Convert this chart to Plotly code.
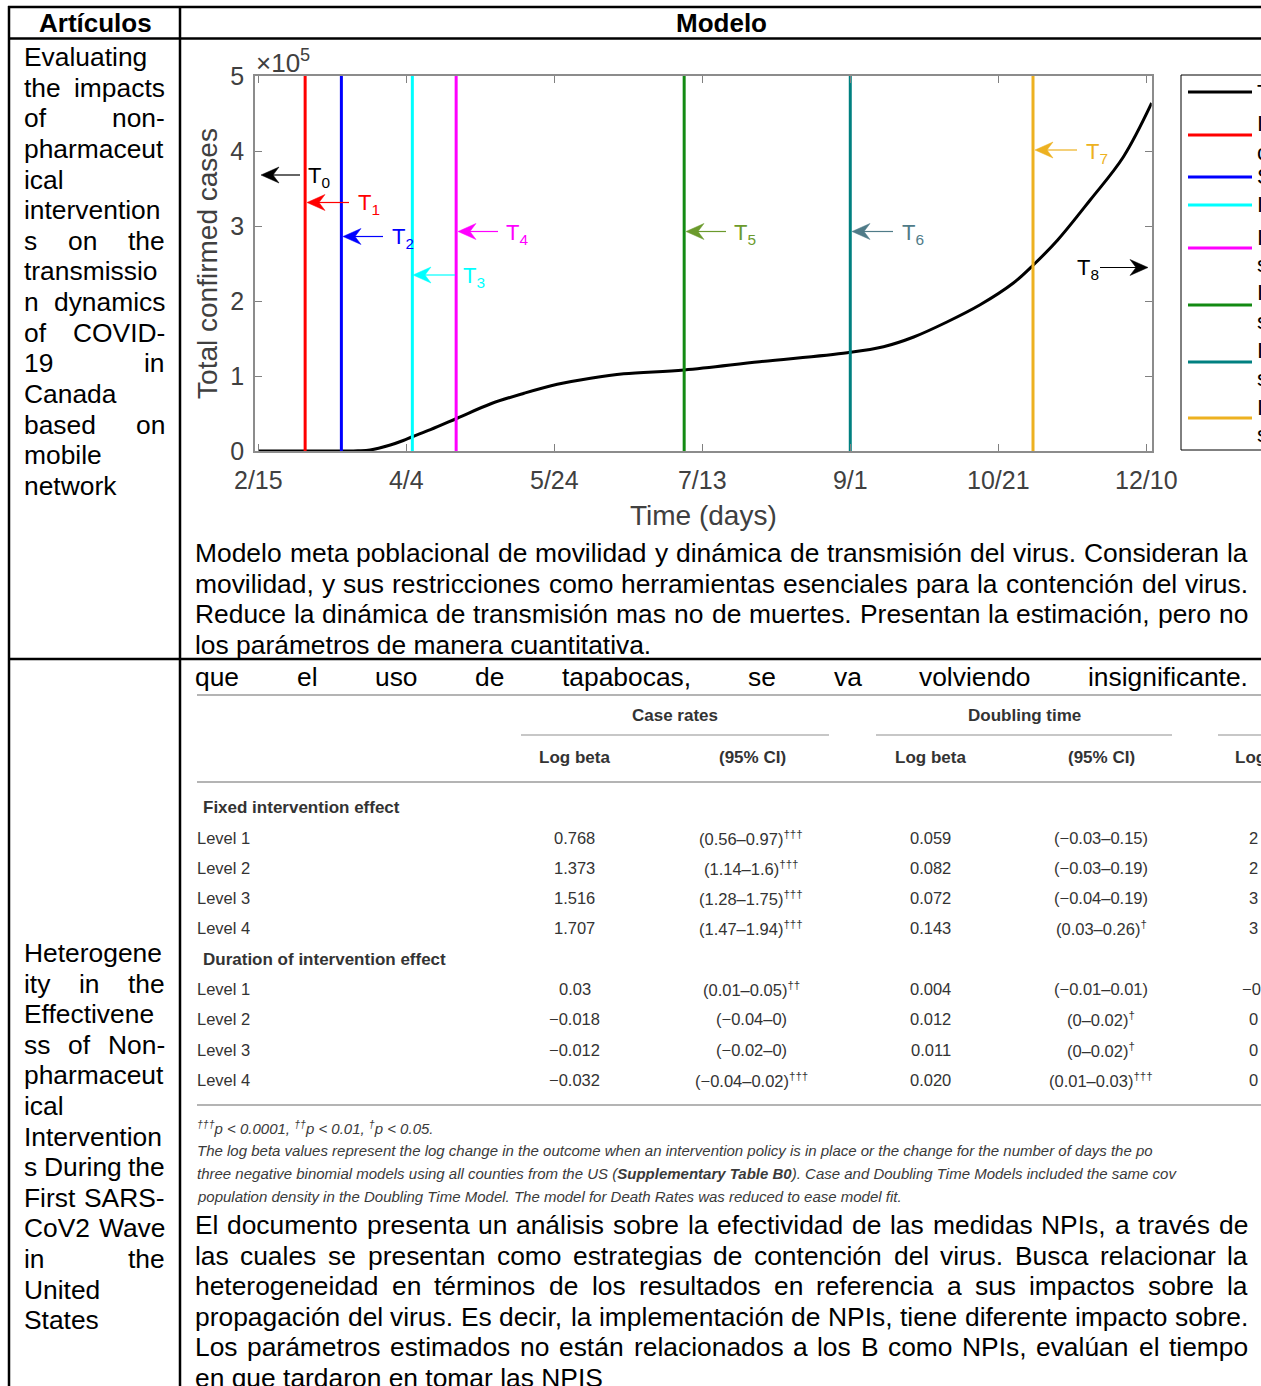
import plotly.graph_objects as go

W, H = 1261, 1386
FONT = "Liberation Sans, Arial, Helvetica, sans-serif"

# ---------------- chart data ----------------
days = [0, 29, 33, 37, 43.7, 48, 51, 57, 66, 77, 88, 99, 110, 121, 141, 166, 195, 207,
        217, 228, 239, 250, 256.6, 264.6, 275.5, 286.4, 295.8]
cases = [0, 0, 300, 1300, 8000, 14000, 19000, 28500, 44000, 63000, 77000, 89000, 97000,
         103000, 108000, 119000, 131000, 139000, 152000, 172000, 195000, 224000, 248000,
         281000, 335000, 392000, 464000]
tick_days = [0, 49, 98, 147, 196, 245, 294]
tick_labels = ["2/15", "4/4", "5/24", "7/13", "9/1", "10/21", "12/10"]
y_ticks = [0, 100000, 200000, 300000, 400000, 500000]
y_tick_labels = ["0", "1", "2", "3", "4", "5"]
event_days = [15.5, 27.5, 51, 65.5, 141, 196, 256.5]
event_colors = ["#ff0000", "#0000ff", "#00ffff", "#ff00ff", "#138a13", "#008080", "#edb120"]
event_labels = ["T<sub>0</sub>", "T<sub>1</sub>", "T<sub>2</sub>", "T<sub>3</sub>", "T<sub>4</sub>",
                "T<sub>5</sub>", "T<sub>6</sub>", "T<sub>7</sub>", "T<sub>8</sub>"]
label_colors = ["#000000", "#ff0000", "#0000ff", "#00ffff", "#ff00ff", "#6b9a2c", "#4f7b88",
                "#edb120", "#000000"]
legend_names = [["Total"], ["Int", "clo"], ["Sch"], ["Iso"], ["Ini", "sta"], ["Ini", "sta"],
                ["Ini", "sta"], ["Ini", "sta"]]

# ---------------- table data ----------------
levels = ["Level 1", "Level 2", "Level 3", "Level 4"]
fixed_case_beta = ["0.768", "1.373", "1.516", "1.707"]
fixed_case_ci = ["(0.56–0.97)<sup>†††</sup>", "(1.14–1.6)<sup>†††</sup>",
                 "(1.28–1.75)<sup>†††</sup>", "(1.47–1.94)<sup>†††</sup>"]
fixed_dt_beta = ["0.059", "0.082", "0.072", "0.143"]
fixed_dt_ci = ["(−0.03–0.15)", "(−0.03–0.19)", "(−0.04–0.19)", "(0.03–0.26)<sup>†</sup>"]
fixed_death_beta = ["2", "2", "3", "3"]
dur_case_beta = ["0.03", "−0.018", "−0.012", "−0.032"]
dur_case_ci = ["(0.01–0.05)<sup>††</sup>", "(−0.04–0)", "(−0.02–0)", "(−0.04–0.02)<sup>†††</sup>"]
dur_dt_beta = ["0.004", "0.012", "0.011", "0.020"]
dur_dt_ci = ["(−0.01–0.01)", "(0–0.02)<sup>†</sup>", "(0–0.02)<sup>†</sup>", "(0.01–0.03)<sup>†††</sup>"]
dur_death_beta = ["−0", "0", "0", "0"]
footnotes = [
    "<i><sup>†††</sup>p &lt; 0.0001, <sup>††</sup>p &lt; 0.01, <sup>†</sup>p &lt; 0.05.</i>",
    "<i>The log beta values represent the log change in the outcome when an intervention policy is in place or the change for the number of days the po</i>",
    "<i>three negative binomial models using all counties from the US (<b>Supplementary Table B0</b>). Case and Doubling Time Models included the same cov</i>",
    "<i>population density in the Doubling Time Model. The model for Death Rates was reduced to ease model fit.</i>",
]

# ---------------- document text ----------------
article1 = ["Evaluating", "the impacts", "of non-", "pharmaceut", "ical", "intervention",
            "s on the", "transmissio", "n dynamics", "of COVID-", "19 in", "Canada",
            "based on", "mobile", "network"]
model1 = ["Modelo meta poblacional de movilidad y dinámica de transmisión del virus. Consideran la",
          "movilidad, y sus restricciones como herramientas esenciales para la contención del virus.",
          "Reduce la dinámica de transmisión mas no de muertes. Presentan la estimación, pero no",
          "los parámetros de manera cuantitativa."]
article2 = ["Heterogene", "ity in the", "Effectivene", "ss of Non-", "pharmaceut", "ical",
            "Intervention", "s During the", "First SARS-", "CoV2 Wave", "in the", "United", "States"]
model2_top = "que el uso de tapabocas, se va volviendo insignificante."
model2 = ["El documento presenta un análisis sobre la efectividad de las medidas NPIs, a través de",
          "las cuales se presentan como estrategias de contención del virus. Busca relacionar la",
          "heterogeneidad en términos de los resultados en referencia a sus impactos sobre la",
          "propagación del virus. Es decir, la implementación de NPIs, tiene diferente impacto sobre.",
          "Los parámetros estimados no están relacionados a los B como NPIs, evalúan el tiempo",
          "en que tardaron en tomar las NPIS"]

# ---------------- helpers ----------------
AW = {' ': 278, ',': 278, '-': 333, '.': 278, '(': 333, ')': 333, '/': 278,
      'A': 667, 'B': 667, 'C': 722, 'D': 722, 'E': 667, 'F': 611, 'G': 778, 'H': 722, 'I': 278,
      'J': 500, 'K': 667, 'L': 556, 'M': 833, 'N': 722, 'O': 778, 'P': 667, 'Q': 778, 'R': 722,
      'S': 667, 'T': 611, 'U': 722, 'V': 667, 'W': 944, 'X': 667, 'Y': 667, 'Z': 611,
      'a': 556, 'b': 556, 'c': 500, 'd': 556, 'e': 556, 'f': 278, 'g': 556, 'h': 556, 'i': 222,
      'j': 222, 'k': 500, 'l': 222, 'm': 833, 'n': 556, 'o': 556, 'p': 556, 'q': 556, 'r': 333,
      's': 500, 't': 278, 'u': 556, 'v': 500, 'w': 722, 'x': 500, 'y': 500, 'z': 500,
      'á': 556, 'é': 556, 'í': 278, 'ó': 556, 'ú': 556, 'ñ': 556}


def tw(s, size):
    return sum(AW.get(c, 556) for c in s) * size / 1000.0


def px(x):
    return x / W


def py(y):
    return 1 - y / H


anns = []
shapes = []


def text(x, y, s, size, color="#000000", anchor="left", family=FONT):
    anns.append(dict(xref="paper", yref="paper", x=px(x), y=py(y), text=s, showarrow=False,
                     xanchor=anchor, yanchor="middle", borderpad=0, borderwidth=0,
                     font=dict(size=size, color=color, family=family)))


def line_words(line, x0, x1, y, size, justify=True):
    words = line.split()
    if len(words) == 1 or not justify:
        text(x0, y, line, size)
        return
    ws = [tw(w, size) for w in words]
    gap = (x1 - x0 - sum(ws)) / (len(words) - 1)
    x = x0
    for i, (w, wd) in enumerate(zip(words, ws)):
        if i == len(words) - 1:
            text(x1, y, w, size, anchor="right")
        else:
            text(x, y, w, size)
        x += wd + gap


def seg(x0, y0, x1, y1, color, width):
    shapes.append(dict(type="line", xref="paper", yref="paper", x0=px(x0), y0=py(y0),
                       x1=px(x1), y1=py(y1), line=dict(color=color, width=width)))


def arrow(hx, hy, tx, color):
    d = 1 if tx > hx else -1
    L, Wd, N = 18, 8, 12
    seg(hx + d * N, hy, tx, hy, color, 1.2)
    p = "M {:.6f},{:.6f} L {:.6f},{:.6f} L {:.6f},{:.6f} L {:.6f},{:.6f} Z".format(
        px(hx), py(hy), px(hx + d * L), py(hy - Wd), px(hx + d * N), py(hy),
        px(hx + d * L), py(hy + Wd))
    shapes.append(dict(type="path", xref="paper", yref="paper", path=p,
                       fillcolor=color, line=dict(color=color, width=0.5)))


# ---------------- figure ----------------
fig = go.Figure()
fig.add_trace(go.Scatter(x=days, y=cases, mode="lines", line=dict(color="black", width=3),
                         line_shape="spline", showlegend=False, hoverinfo="skip"))
for d, c in zip(event_days, event_colors):
    fig.add_trace(go.Scatter(x=[d, d], y=[y_ticks[0], y_ticks[-1]], mode="lines",
                             line=dict(color=c, width=3), showlegend=False, hoverinfo="skip"))

# chart arrows (head px, tail px)
arrows = [(261, 175, 300), (307, 202.5, 349), (343, 236.5, 383), (413, 275, 455),
          (458, 231.5, 498), (686, 231.5, 726), (852, 231.5, 893), (1035, 150, 1077),
          (1148, 267.5, 1100)]
label_pos = [(308, 177), (358, 204), (392, 238), (463, 277), (506, 234), (734, 234),
             (902, 234), (1086, 153), (1077, 269)]
for (hx, hy, tx), c in zip(arrows, label_colors):
    arrow(hx, hy, tx, c)
for (lx, ly), lab, c in zip(label_pos, event_labels, label_colors):
    text(lx, ly, lab, 22, color=c)

text(256, 61, "×10<sup>5</sup>", 26, color="#404040")

# legend box (manual)
legend_colors = ["#000000"] + event_colors
legend_line_y = [92, 135, 177, 205, 248, 305, 362, 418]
legend_text_y = [[92], [123, 152], [177], [205], [237, 265], [293, 322], [350, 378], [407, 435]]
shapes.append(dict(type="rect", xref="paper", yref="paper", x0=px(1181), x1=px(1275),
                   y0=py(450), y1=py(75), line=dict(color="#000000", width=1)))
for c, ly, tys, names in zip(legend_colors, legend_line_y, legend_text_y, legend_names):
    seg(1188, ly, 1252, ly, c, 3)
    for ty, nm in zip(tys, names):
        text(1257, ty, nm, 22)

# ---------------- document table ----------------
BL = "#000000"
seg(8, 7, 1261, 7, BL, 2.5)
seg(9, 6, 9, 1386, BL, 2.5)
seg(180, 6, 180, 1386, BL, 2.5)
seg(8, 38.5, 1261, 38.5, BL, 2.5)
seg(8, 659, 1261, 659, BL, 2.5)

text(95, 23, "<b>Artículos</b>", 26, anchor="center")
text(721, 23, "<b>Modelo</b>", 26, anchor="center")

TS = 26.4
for i, ln in enumerate(article1):
    line_words(ln, 24, 165, 57 + 30.64 * i, TS)
for i, ln in enumerate(model1):
    line_words(ln, 195, 1248, 553 + 30.5 * i, TS, justify=(i < len(model1) - 1))
line_words(model2_top, 195, 1248, 677, TS)
for i, ln in enumerate(article2):
    line_words(ln, 24, 165, 953 + 30.6 * i, TS, justify=(i < len(article2) - 1))
for i, ln in enumerate(model2):
    line_words(ln, 195, 1248, 1225 + 30.5 * i, TS, justify=(i < len(model2) - 1))

# ---------------- embedded statistics table ----------------
TC = "#333333"
RC = "#b4b4b4"
seg(197, 695, 1261, 695, RC, 2)
seg(521, 735, 829, 735, RC, 1.5)
seg(876, 735, 1172, 735, RC, 1.5)
seg(1218, 735, 1261, 735, RC, 1.5)
seg(197, 782, 1261, 782, RC, 2)
seg(197, 1105, 1261, 1105, RC, 2)

text(675, 715, "<b>Case rates</b>", 17, TC, "center")
text(1024, 715, "<b>Doubling time</b>", 17, TC, "center")
for xc, s in zip([574, 752, 930, 1101], ["Log beta", "(95% CI)", "Log beta", "(95% CI)"]):
    text(xc, 757, "<b>" + s + "</b>", 17, TC, "center")
text(1235, 757, "<b>Log</b>", 17, TC)
text(203, 808, "<b>Fixed intervention effect</b>", 17, TC)
text(203, 959, "<b>Duration of intervention effect</b>", 17, TC)

fixed_y = [838, 868, 898, 928]
dur_y = [989, 1019, 1050, 1080]
for ys, b1, c1, b2, c2, b3 in [(fixed_y, fixed_case_beta, fixed_case_ci, fixed_dt_beta, fixed_dt_ci, fixed_death_beta),
                               (dur_y, dur_case_beta, dur_case_ci, dur_dt_beta, dur_dt_ci, dur_death_beta)]:
    for i, y in enumerate(ys):
        text(197, y, levels[i], 16.5, TC)
        text(574.5, y, b1[i], 16.5, TC, "center")
        text(751, y, c1[i], 16.5, TC, "center")
        text(930.5, y, b2[i], 16.5, TC, "center")
        text(1101, y, c2[i], 16.5, TC, "center")
        text(1249 if not b3[i].startswith("−") else 1242, y, b3[i], 16.5, TC)

for i, fn in enumerate(footnotes):
    text(197, 1127 + 23 * i, fn, 15, "#3a3a3a")

fig.update_layout(
    template="none",
    width=W, height=H, autosize=False,
    margin=dict(l=0, r=0, t=0, b=0, pad=0),
    paper_bgcolor="white", plot_bgcolor="white",
    font=dict(family=FONT),
    showlegend=False,
    xaxis=dict(domain=[255 / W, 1151.7 / W], range=[-1.1, 295.8], tickmode="array",
               automargin=False,
               tickvals=tick_days, ticktext=tick_labels, ticks="inside", ticklen=7,
               tickcolor="#808080", tickwidth=1, showline=True, linecolor="#8c8c8c",
               linewidth=1.5, mirror="ticks", showgrid=False, zeroline=False,
               tickfont=dict(size=25, color="#404040", family=FONT), ticklabelstandoff=6,
               title=dict(text="Time (days)", font=dict(size=28, color="#404040", family=FONT),
                          standoff=13)),
    yaxis=dict(domain=[1 - 451 / H, 1 - 76 / H], range=[y_ticks[0], y_ticks[-1]],
               automargin=False,
               tickmode="array", tickvals=y_ticks, ticktext=y_tick_labels, ticks="inside",
               ticklen=7, tickcolor="#808080", tickwidth=1, showline=True,
               linecolor="#8c8c8c", linewidth=1.5, mirror="ticks", showgrid=False,
               zeroline=False, tickfont=dict(size=25, color="#404040", family=FONT),
               ticklabelstandoff=4,
               title=dict(text="Total confirmed cases",
                          font=dict(size=28, color="#404040", family=FONT), standoff=5)),
    annotations=anns,
    shapes=shapes,
)

fig.write_html("out.html", config={"displayModeBar": False},
               post_script="document.body.style.margin='0';document.body.style.overflow='hidden';")
